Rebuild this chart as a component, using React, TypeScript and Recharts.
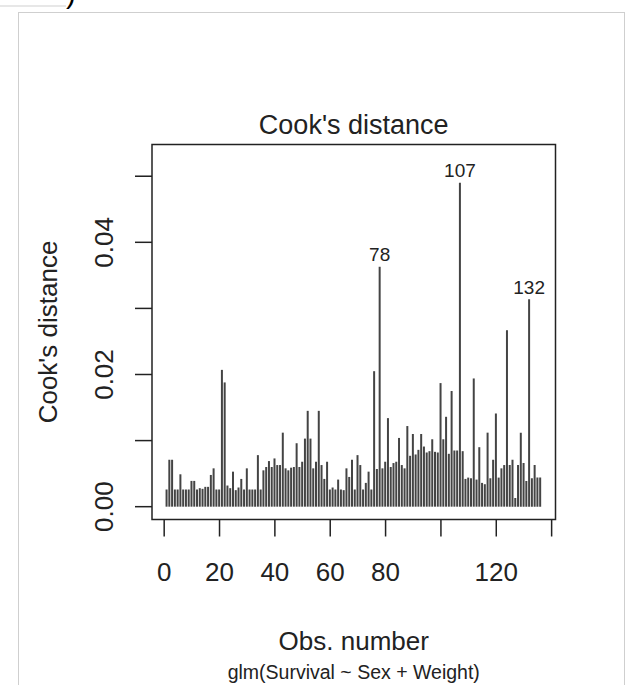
import { BarChart, Bar, XAxis, YAxis, ReferenceArea, LabelList } from "recharts";

// Cook's distance per observation (obs 1..136)
const cooksD = [
  0.0026, 0.0071, 0.0071, 0.0026, 0.0026, 0.0049, 0.0026, 0.0026, 0.0026, 0.0039,
  0.0039, 0.0026, 0.0028, 0.0027, 0.003, 0.003, 0.0048, 0.0058, 0.0026, 0.0026,
  0.0207, 0.0188, 0.0032, 0.0028, 0.0053, 0.0025, 0.0029, 0.0042, 0.0026, 0.0058,
  0.0026, 0.0026, 0.0026, 0.0078, 0.0026, 0.0055, 0.006, 0.0069, 0.006, 0.0073,
  0.0063, 0.0063, 0.0112, 0.0058, 0.0055, 0.0059, 0.006, 0.0096, 0.006, 0.0068,
  0.0103, 0.0145, 0.0103, 0.0058, 0.0068, 0.0145, 0.0063, 0.0042, 0.0068, 0.0026,
  0.0029, 0.0026, 0.0041, 0.0026, 0.0025, 0.0058, 0.0045, 0.0071, 0.0026, 0.0078,
  0.0063, 0.0026, 0.0036, 0.0053, 0.0026, 0.0205, 0.0057, 0.0363, 0.0058, 0.0068,
  0.0134, 0.006, 0.0066, 0.0068, 0.0104, 0.0063, 0.0058, 0.0122, 0.0077, 0.011,
  0.0079, 0.0086, 0.011, 0.0091, 0.0082, 0.0084, 0.0102, 0.0083, 0.0082, 0.0187,
  0.0102, 0.0136, 0.008, 0.0175, 0.0085, 0.0085, 0.049, 0.0084, 0.0042, 0.0044,
  0.0043, 0.0194, 0.0041, 0.009, 0.0036, 0.0034, 0.0112, 0.0043, 0.0071, 0.0141,
  0.0044, 0.0058, 0.0063, 0.0267, 0.0063, 0.0071, 0.0013, 0.0063, 0.0112, 0.0066,
  0.0039, 0.0314, 0.0043, 0.0063, 0.0044, 0.0044,
];

const flaggedObs = [78, 107, 132];

const xTicks = [0, 20, 40, 60, 80, 100, 120, 140];
const xTickLabels = [0, 20, 40, 60, 80, 120];
const yTicks = [0, 0.01, 0.02, 0.03, 0.04, 0.05];
const yTickLabels = [0, 0.02, 0.04];

const plotTitle = "Cook's distance";
const xTitle = "Obs. number";
const yTitle = "Cook's distance";
const modelCaption = "glm(Survival ~ Sex + Weight)";

const rows = cooksD.map((d, i) => ({ obs: i + 1, cook: d }));

const W = 625;
const H = 685;
const PLOT = { left: 152, right: 555.5, top: 144.5, bottom: 519.5 };
const X_DOMAIN: [number, number] = [-4.4, 141.4];
const Y_DOMAIN: [number, number] = [-0.00194, 0.0548];
const Y_AXIS_W = 60;
const X_AXIS_H = 60;

const FONT = "'Liberation Sans', Arial, Helvetica, sans-serif";
const INK = "#222";

function XTick({ x, payload }: any) {
  if (!xTickLabels.includes(payload.value)) return <g />;
  return (
    <text x={x} y={PLOT.bottom + 61.5} textAnchor="middle" fontSize={26} fill={INK} fontFamily={FONT}>
      {payload.value}
    </text>
  );
}

function YTick({ y, payload }: any) {
  const show = yTickLabels.some((v) => Math.abs(v - payload.value) < 1e-9);
  if (!show) return <g />;
  const bx = 113;
  return (
    <text
      x={bx}
      y={y}
      transform={`rotate(-90 ${bx} ${y})`}
      textAnchor="middle"
      fontSize={26}
      fill={INK}
      fontFamily={FONT}
    >
      {payload.value.toFixed(2)}
    </text>
  );
}

function ObsLabel(p: any) {
  if (!flaggedObs.includes(p.value)) return <g />;
  return (
    <text x={p.x + p.width / 2} y={p.y - 5.5} textAnchor="middle" fontSize={19} fill={INK} fontFamily={FONT}>
      {p.value}
    </text>
  );
}

export default function App() {
  const midX = (PLOT.left + PLOT.right) / 2;
  const midY = (PLOT.top + PLOT.bottom) / 2;
  return (
    <div style={{ position: "absolute", left: 0, top: 0, width: W, height: H, background: "#fff", overflow: "hidden" }}>
      {/* page frame */}
      <div
        style={{
          position: "absolute",
          left: 18,
          top: 12,
          width: 605,
          height: 700,
          border: "1px solid #cfcfcf",
        }}
      />
      <BarChart
        width={W}
        height={H}
        data={rows}
        margin={{
          top: PLOT.top,
          right: W - PLOT.right,
          bottom: H - PLOT.bottom - X_AXIS_H,
          left: PLOT.left - Y_AXIS_W,
        }}
        style={{ position: "absolute", left: 0, top: 0 }}
      >
        <XAxis
          dataKey="obs"
          type="number"
          domain={X_DOMAIN}
          allowDataOverflow
          ticks={xTicks}
          interval={0}
          height={X_AXIS_H}
          axisLine={false}
          tickSize={17}
          tickLine={{ stroke: INK, strokeWidth: 1.5 }}
          tick={<XTick />}
        />
        <YAxis
          type="number"
          domain={Y_DOMAIN}
          allowDataOverflow
          ticks={yTicks}
          interval={0}
          width={Y_AXIS_W}
          axisLine={false}
          tickSize={17}
          tickLine={{ stroke: INK, strokeWidth: 1.5 }}
          tick={<YTick />}
        />
        <Bar dataKey="cook" fill="#444" barSize={2} isAnimationActive={false}>
          <LabelList dataKey="obs" content={<ObsLabel />} />
        </Bar>
        <ReferenceArea
          x1={X_DOMAIN[0]}
          x2={X_DOMAIN[1]}
          y1={Y_DOMAIN[0]}
          y2={Y_DOMAIN[1]}
          fill="none"
          stroke={INK}
          strokeWidth={1.5}
          ifOverflow="visible"
        />
      </BarChart>
      <svg width={W} height={H} style={{ position: "absolute", left: 0, top: 0, pointerEvents: "none" }}>
        <line x1={0} y1={6} x2={66} y2={6} stroke="#cfcfcf" />
        <text x={66} y={3} fontSize={30} fill="#000" fontFamily={FONT}>
          )
        </text>
        <text x={midX} y={134} textAnchor="middle" fontSize={27} fill={INK} fontFamily={FONT}>
          {plotTitle}
        </text>
        <text
          x={57}
          y={midY}
          transform={`rotate(-90 57 ${midY})`}
          textAnchor="middle"
          fontSize={26}
          fill={INK}
          fontFamily={FONT}
        >
          {yTitle}
        </text>
        <text x={midX} y={650} textAnchor="middle" fontSize={26} fill={INK} fontFamily={FONT}>
          {xTitle}
        </text>
        <text x={midX} y={679} textAnchor="middle" fontSize={19.5} fill={INK} fontFamily={FONT}>
          {modelCaption}
        </text>
      </svg>
    </div>
  );
}
